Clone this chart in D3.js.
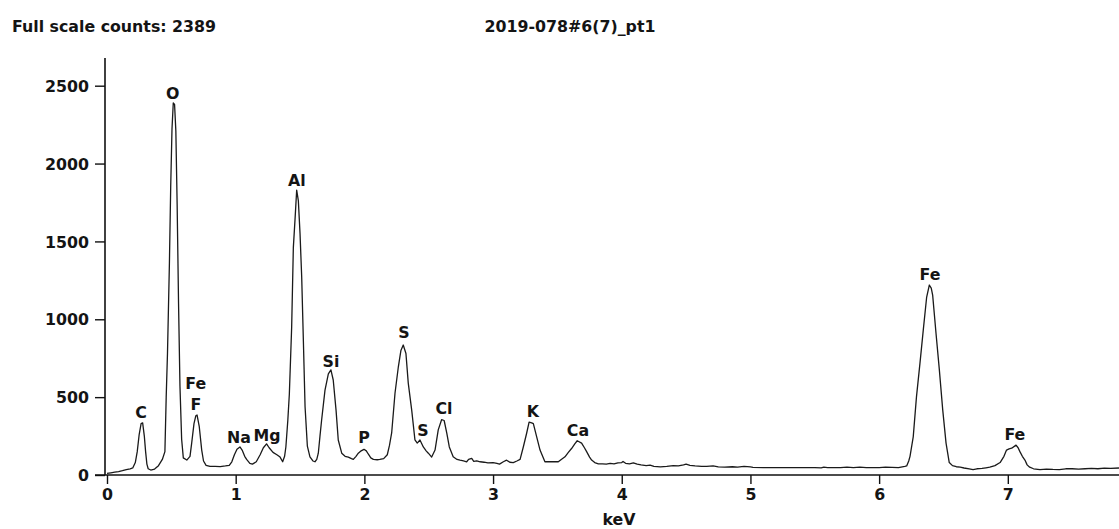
<!DOCTYPE html>
<html>
<head>
<meta charset="utf-8">
<script src="https://cdn.jsdelivr.net/npm/d3@7"></script>
<style>
  html, body { margin: 0; padding: 0; background: #fff; }
  svg { display: block; }
  text { font-family: "DejaVu Sans", Verdana, sans-serif; font-weight: bold; fill: #141414; }
</style>
</head>
<body>
<svg id="chart" width="1119" height="529"></svg>
<script>
// ---- data ----
const headerLeft = "Full scale counts: 2389";
const chartTitle = "2019-078#6(7)_pt1";
const xAxisLabel = "keV";
const xTicks = [0, 1, 2, 3, 4, 5, 6, 7];
const yTicks = [0, 500, 1000, 1500, 2000, 2500];

// spectrum energies (keV) and counts
const energy = [
  0.00,0.03,0.06,0.09,0.12,0.15,0.18,0.20,0.22,0.235,0.25,0.265,0.277,0.29,0.30,0.31,0.32,0.34,0.37,0.40,
  0.43,0.45,0.46,0.47,0.485,0.495,0.505,0.515,0.525,0.535,0.545,0.556,0.567,0.58,0.593,0.62,0.645,0.658,0.676,0.69,
  0.70,0.717,0.736,0.75,0.77,0.80,0.84,0.88,0.92,0.95,0.97,0.99,1.01,1.033,1.05,1.07,1.085,1.11,1.13,1.16,
  1.19,1.215,1.24,1.26,1.29,1.32,1.345,1.365,1.38,1.39,1.405,1.417,1.435,1.448,1.461,1.474,1.487,1.50,1.513,1.526,
  1.539,1.557,1.577,1.60,1.616,1.63,1.642,1.655,1.668,1.694,1.72,1.74,1.758,1.78,1.797,1.824,1.85,1.875,1.90,1.914,
  1.935,1.953,1.975,1.997,2.015,2.03,2.05,2.07,2.10,2.12,2.15,2.178,2.195,2.212,2.238,2.264,2.284,2.302,2.323,2.341,
  2.368,2.393,2.411,2.432,2.458,2.48,2.497,2.523,2.549,2.574,2.60,2.62,2.64,2.66,2.69,2.72,2.743,2.77,2.795,2.81,
  2.834,2.85,2.873,2.90,2.93,2.96,3.00,3.03,3.05,3.08,3.105,3.13,3.157,3.185,3.21,3.235,3.26,3.28,3.30,3.313,
  3.339,3.365,3.39,3.403,3.45,3.507,3.53,3.559,3.585,3.61,3.635,3.654,3.688,3.71,3.727,3.75,3.766,3.79,3.818,3.85,
  3.88,3.91,3.94,3.97,4.00,4.01,4.03,4.06,4.09,4.12,4.15,4.19,4.22,4.25,4.30,4.35,4.40,4.44,4.48,4.50,
  4.53,4.57,4.62,4.66,4.71,4.75,4.80,4.86,4.90,4.95,5.00,5.02,5.10,5.20,5.30,5.40,5.50,5.55,5.57,5.60,
  5.70,5.75,5.80,5.85,5.90,6.00,6.05,6.10,6.15,6.20,6.214,6.23,6.24,6.265,6.29,6.317,6.343,6.369,6.39,6.405,
  6.416,6.442,6.468,6.494,6.52,6.545,6.57,6.60,6.63,6.66,6.70,6.73,6.76,6.80,6.83,6.86,6.90,6.94,6.97,6.99,
  7.01,7.03,7.064,7.08,7.094,7.113,7.133,7.15,7.17,7.20,7.25,7.30,7.35,7.40,7.45,7.50,7.55,7.60,7.65,7.70,
  7.75,7.80,7.864
];
const counts = [
  10,14,18,22,28,35,40,45,80,150,260,330,335,250,150,70,40,32,38,60,
  100,150,500,780,1360,1850,2220,2389,2380,2210,1740,1100,570,230,110,96,120,205,330,380,
  385,310,160,90,62,55,55,54,58,62,85,130,165,180,160,120,100,75,70,85,
  130,175,200,175,145,130,115,85,120,180,350,520,950,1460,1640,1830,1760,1550,1270,860,
  440,185,117,90,85,100,140,250,355,545,650,675,610,415,225,140,120,115,105,100,
  120,140,155,165,155,135,110,100,98,100,105,130,190,270,525,695,800,835,780,590,
  415,225,205,225,180,155,140,115,160,290,355,350,270,180,117,100,95,90,85,100,
  107,88,91,85,82,78,80,74,70,85,95,82,80,90,100,180,265,340,335,330,
  245,160,110,85,85,85,100,117,145,170,200,220,205,175,150,115,96,80,72,72,
  70,75,72,78,80,87,75,72,78,70,65,60,63,55,52,55,60,58,65,70,
  62,58,56,55,58,52,50,53,50,56,52,49,48,48,48,48,48,46,50,48,
  48,50,47,50,48,47,50,49,48,55,58,90,120,245,500,715,930,1140,1220,1200,
  1155,910,675,420,205,80,60,53,50,45,40,35,40,42,46,50,60,80,120,160,
  168,172,192,175,150,120,96,65,50,40,35,38,36,35,40,40,38,40,42,40,
  44,42,45
];

// peak labels: element, energy (keV), label baseline level (counts)
const peakNames  = ["O", "C", "Fe", "F", "Na", "Mg", "Al", "Si", "P", "S", "S", "Cl", "K", "Ca", "Fe", "Fe"];
const peakEnergy = [0.51, 0.264, 0.69, 0.69, 1.026, 1.243, 1.476, 1.74, 1.997, 2.308, 2.455, 2.618, 3.31, 3.66, 6.395, 7.055];
const peakLevel  = [2417, 365, 552, 417, 208, 218, 1853, 692, 205, 881, 250, 391, 372, 250, 1250, 225];

// ---- drawing ----
const svg = d3.select("#chart");
const x = d3.scaleLinear().domain([0, 7.864]).range([107, 1119]);
const y = d3.scaleLinear().domain([0, 2500]).range([475, 85.7]);

// header texts
svg.append("text").attr("x", 12).attr("y", 32).attr("font-size", 15.8).text(headerLeft);
svg.append("text").attr("x", 570).attr("y", 32).attr("font-size", 15.8)
  .attr("text-anchor", "middle").text(chartTitle);

// y axis
const yAxis = d3.axisLeft(y).tickValues(yTicks).tickSize(10).tickPadding(6).tickFormat(d3.format("d"));
const gy = svg.append("g").attr("transform", "translate(105,0)").call(yAxis);
gy.select(".domain").remove();
gy.append("line").attr("x1", 0).attr("x2", 0).attr("y1", 58).attr("y2", 475)
  .attr("stroke", "#111").attr("stroke-width", 1.6);
gy.selectAll(".tick line").attr("stroke", "#111").attr("stroke-width", 1.4);
gy.selectAll(".tick text").attr("font-size", 15.8).attr("font-family", "DejaVu Sans")
  .attr("font-weight", "bold").attr("fill", "#141414").attr("dy", "0.36em");

// x axis
const xAxis = d3.axisBottom(x).tickValues(xTicks).tickSize(9).tickPadding(5).tickFormat(d3.format("d"));
const gx = svg.append("g").attr("transform", "translate(0,475)").call(xAxis);
gx.select(".domain").remove();
gx.append("line").attr("x1", 95).attr("x2", 1119).attr("y1", 0).attr("y2", 0)
  .attr("stroke", "#111").attr("stroke-width", 1.6);
gx.selectAll(".tick line").attr("stroke", "#111").attr("stroke-width", 1.4);
gx.selectAll(".tick text").attr("font-size", 15.8).attr("font-family", "DejaVu Sans")
  .attr("font-weight", "bold").attr("fill", "#141414");

svg.append("text").attr("x", 619).attr("y", 525).attr("font-size", 15.8)
  .attr("text-anchor", "middle").text(xAxisLabel);

// spectrum line
const pts = energy.map((e, i) => [e, counts[i]]);
const line = d3.line().x(d => x(d[0])).y(d => y(d[1]));
svg.append("path").datum(pts).attr("d", line)
  .attr("fill", "none").attr("stroke", "#1a1a1a").attr("stroke-width", 1.3)
  .attr("stroke-linejoin", "round");

// peak labels
svg.append("g").selectAll("text").data(peakNames).join("text")
  .attr("x", (d, i) => x(peakEnergy[i]))
  .attr("y", (d, i) => y(peakLevel[i]))
  .attr("text-anchor", "middle")
  .attr("font-size", 15.8)
  .text(d => d);
</script>
</body>
</html>
